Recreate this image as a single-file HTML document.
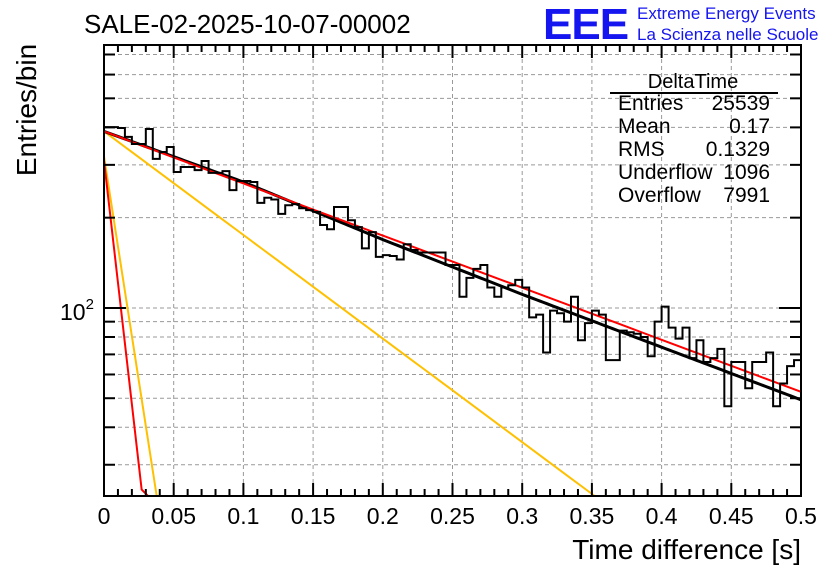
<!DOCTYPE html>
<html><head><meta charset="utf-8">
<style>
html,body{margin:0;padding:0;background:#fff;}
svg{display:block;font-family:"Liberation Sans",Arial,sans-serif;}
</style></head>
<body>
<svg id="chart" width="836" height="572" viewBox="0 0 836 572">
  <text x="84" y="33" font-size="26">SALE-02-2025-10-07-00002</text>
  <text x="543" y="39" font-size="44" fill="#1515f0" font-weight="bold" style="letter-spacing:-1px">EEE</text>
  <text x="637" y="19" font-size="17" fill="#1515f0">Extreme Energy Events</text>
  <text x="637" y="40" font-size="17" fill="#1515f0">La Scienza nelle Scuole</text>
  <g id="grid"></g>
  <g id="curves"></g>
  <g id="hist"></g>
  <g id="axes"></g>
  <g font-size="21">
    <text x="693" y="88" text-anchor="middle" font-size="20">DeltaTime</text>
    <line x1="610" y1="93" x2="778" y2="93" stroke="#000" stroke-width="2"/>
    <text x="618" y="110">Entries</text><text x="770" y="110" text-anchor="end">25539</text>
    <text x="618" y="133">Mean</text><text x="770" y="133" text-anchor="end">0.17</text>
    <text x="618" y="156">RMS</text><text x="770" y="156" text-anchor="end">0.1329</text>
    <text x="618" y="179">Underflow</text><text x="770" y="179" text-anchor="end">1096</text>
    <text x="618" y="202">Overflow</text><text x="770" y="202" text-anchor="end">7991</text>
  </g>
  <text transform="translate(36,110) rotate(-90)" text-anchor="middle" font-size="28">Entries/bin</text>
  <text x="801" y="559" text-anchor="end" font-size="28">Time difference [s]</text>
</svg>
<script>
const counts = [401,401,398,372,352,352,395,314,331,344,284,295,295,288,309,282,282,286,247,265,265,263,224,233,230,206,220,222,215,212,209,189,183,217,217,196,186,158,179,148,150,149,145,163,156,153,153,153,153,139,139,109,126,135,139,117,109,117,119,124,117,93,95,71,98,96,90,109,78,89,98,95,67,67,84,83,82,80,69,90,101,86,79,86,68,78,66,68,73,47,66,66,54,66,66,71,47,56,64,67];
const binLow = 0, binHigh = 0.5;
const totalX = [0,0.1,0.2,0.3,0.4,0.5];
const totalY = [388,263,169,111,74,49.4];
const redSlowX = [0,0.5];
const redSlowY = [388,52.5];
const yellowSlowX = [0,0.352];
const yellowSlowY = [388,23.6];
const redFastX = [0,0.027,0.0316];
const redFastY = [310,24.8,23.6];
const yellowFastX = [0,0.0378];
const yellowFastY = [320,23.6];
const xTicks = [0,0.05,0.1,0.15,0.2,0.25,0.3,0.35,0.4,0.45,0.5];
const xTickLabels = ["0","0.05","0.1","0.15","0.2","0.25","0.3","0.35","0.4","0.45","0.5"];
const yMinorTicks = [30,40,50,60,70,80,90,200,300,400,500,600,700];

const L=104,R=801,T=45,B=496;
const yMin=23.6,yMax=753;
const sx=v=>L+(v-binLow)/(binHigh-binLow)*(R-L);
const sy=v=>B-(Math.log10(v)-Math.log10(yMin))/(Math.log10(yMax)-Math.log10(yMin))*(B-T);
const NS='http://www.w3.org/2000/svg';
function mk(tag,attrs,parent){const e=document.createElementNS(NS,tag);for(const k in attrs)e.setAttribute(k,attrs[k]);parent.appendChild(e);return e;}
const grid=document.getElementById('grid'),axes=document.getElementById('axes'),hist=document.getElementById('hist'),curves=document.getElementById('curves');

xTicks.slice(1,-1).forEach(v=>{const g=mk('line',{x1:sx(v),x2:sx(v),y1:T,y2:B,stroke:'#999','stroke-dasharray':'4,3','stroke-width':1},grid);

});
[100].concat(yMinorTicks).forEach(v=>{const g=mk('line',{x1:L,x2:R,y1:sy(v),y2:sy(v),stroke:'#999','stroke-dasharray':'4,3','stroke-width':1},grid);

});

function logLine(xs,ys,color,w,name){
  let pts=[];
  for(let i=0;i<xs.length-1;i++){
    for(let k=0;k<=40;k++){
      const t=k/40, x=xs[i]+(xs[i+1]-xs[i])*t;
      const ly=Math.log10(ys[i])+(Math.log10(ys[i+1])-Math.log10(ys[i]))*t;
      pts.push(sx(x).toFixed(2)+','+sy(Math.pow(10,ly)).toFixed(2));
    }
  }
  const p=mk('polyline',{points:pts.join(' '),fill:'none',stroke:color,'stroke-width':w},curves);
  
  
}
logLine(yellowSlowX,yellowSlowY,'#ffc000',2,'yellow-slow-component');
logLine(yellowFastX,yellowFastY,'#ffc000',2,'yellow-fast-component');
logLine(redFastX,redFastY,'#ff0000',2,'red-fast-component');

const bw=(binHigh-binLow)/counts.length;
let d='M'+sx(binLow)+','+sy(counts[0]);
counts.forEach((c,i)=>{d+=' H'+sx(binLow+(i+1)*bw).toFixed(2);if(i<counts.length-1)d+=' V'+sy(counts[i+1]).toFixed(2);});
const hp=mk('path',{d:d,fill:'none',stroke:'#000','stroke-width':2},hist);



logLine(totalX,totalY,'#000',3,'total-fit-curve');
logLine(redSlowX,redSlowY,'#ff0000',2,'red-slow-component');

const fr=mk('rect',{x:L,y:T,width:R-L,height:B-T,fill:'none',stroke:'#000','stroke-width':2},axes);


for(let i=0;i<=50;i++){
  const v=i*0.01, x=sx(v), len=(i%5===0)?13:7;
  mk('line',{x1:x,x2:x,y1:B,y2:B-len,stroke:'#000','stroke-width':2},axes);
  mk('line',{x1:x,x2:x,y1:T,y2:T+len,stroke:'#000','stroke-width':2},axes);
}
xTicks.forEach((v,i)=>{const t=mk('text',{x:sx(v),y:524,'text-anchor':'middle','font-size':23},axes);t.textContent=xTickLabels[i];

});
[100].concat(yMinorTicks).forEach(v=>{const y=sy(v),len=(v===100)?22:11;
  mk('line',{x1:L,x2:L+len,y1:y,y2:y,stroke:'#000','stroke-width':2},axes);
  mk('line',{x1:R,x2:R-len,y1:y,y2:y,stroke:'#000','stroke-width':2},axes);});
const yl=mk('text',{x:60,y:sy(100)+12,'font-size':23},axes);


yl.innerHTML='10<tspan font-size="15" dy="-11">2</tspan>';
</script>
</body></html>
